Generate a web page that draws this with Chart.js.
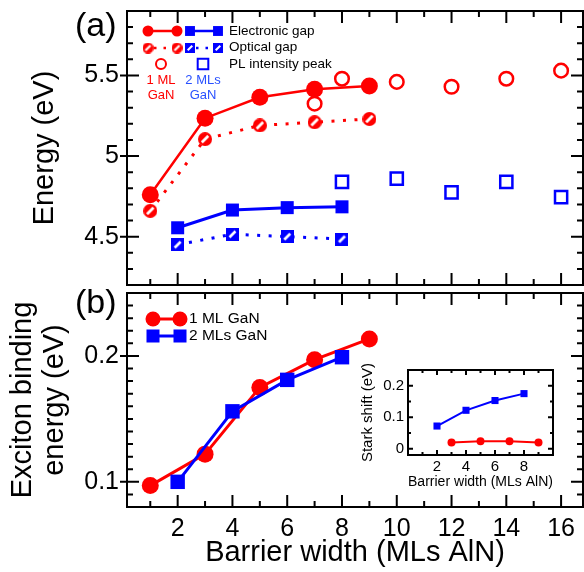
<!DOCTYPE html>
<html>
<head>
<meta charset="utf-8">
<title>Energy and exciton binding vs barrier width</title>
<script src="https://cdn.jsdelivr.net/npm/chart.js@4.4.0/dist/chart.umd.min.js"></script>
<style>
  html, body { margin: 0; padding: 0; background: #fff; }
  #wrap { position: relative; width: 584px; height: 572px; }
  canvas { position: absolute; }
</style>
</head>
<body>
<div id="wrap">
  <canvas id="panel-a" width="584" height="288" style="left:0;top:0;width:584px;height:288px"></canvas>
  <canvas id="panel-b" width="584" height="286" style="left:0;top:286px;width:584px;height:286px"></canvas>
  <canvas id="panel-inset" width="206" height="132" style="left:352px;top:364px;width:206px;height:132px"></canvas>
</div>
<script>
'use strict';

const RED = '#ff0000';
const BLUE = '#0000ff';
const FONT = "'Liberation Sans', Arial, Helvetica, sans-serif";

/* ---- panel (a): energies (eV) vs barrier width (MLs AlN) ---- */
const X_1ML = [1, 3, 5, 7, 9];
const X_2ML = [2, 4, 6, 8];
const ELEC_GAP_1ML = [4.76, 5.235, 5.365, 5.415, 5.435];
const OPT_GAP_1ML = [4.66, 5.105, 5.19, 5.21, 5.23];
const PL_X_1ML = [7, 8, 10, 12, 14, 16];
const PL_PEAK_1ML = [5.325, 5.48, 5.46, 5.43, 5.48, 5.53];
const ELEC_GAP_2ML = [4.555, 4.665, 4.68, 4.685];
const OPT_GAP_2ML = [4.45, 4.515, 4.5, 4.485];
const PL_X_2ML = [8, 10, 12, 14, 16];
const PL_PEAK_2ML = [4.84, 4.86, 4.775, 4.84, 4.745];

/* ---- panel (b): exciton binding energy (eV) ---- */
const EXB_1ML = [0.097, 0.122, 0.175, 0.197, 0.2135];
const EXB_2ML = [0.100, 0.156, 0.181, 0.199];

/* ---- inset: Stark shift (eV) ---- */
const STARK_X_1ML = [3, 5, 7, 9];
const STARK_1ML = [0.02, 0.024, 0.024, 0.02];
const STARK_2ML = [0.072, 0.122, 0.153, 0.175];

/* ---- tick labels ---- */
const X_TICKS = [2, 4, 6, 8, 10, 12, 14, 16];
const E_TICKS = [4.5, 5, 5.5];
const EXB_TICKS = [0.1, 0.2];
const INSET_X_TICKS = [2, 4, 6, 8];
const INSET_Y_TICKS = [0, 0.1, 0.2];

/* ===================================================
   helpers
   =================================================== */
function pts(xs, ys) {
  return xs.map((x, i) => ({ x: x, y: ys[i] }));
}

function hatchMarker(shape, color, d) {
  const c = document.createElement('canvas');
  c.width = d; c.height = d;
  const g = c.getContext('2d');
  g.fillStyle = color;
  if (shape === 'circle') {
    g.beginPath(); g.arc(d / 2, d / 2, d / 2, 0, Math.PI * 2); g.fill();
  } else {
    g.fillRect(0, 0, d, d);
  }
  g.strokeStyle = '#fff';
  g.lineWidth = d * 0.2;
  g.beginPath();
  g.moveTo(d * 0.27, d * 0.73);
  g.lineTo(d * 0.73, d * 0.27);
  g.stroke();
  return c;
}

function stepValues(min, max, step) {
  const out = [];
  for (let k = Math.ceil(min / step - 1e-9); k * step <= max + 1e-9; k++) {
    out.push(+(k * step).toFixed(6));
  }
  return out;
}

function isMajor(v, major) {
  return Math.abs(v / major - Math.round(v / major)) < 1e-6;
}

function fixedTicks(list) {
  return scale => { scale.ticks = list.map(v => ({ value: v })); };
}

/* frame box + inward tick marks on all four sides */
const frameTicks = {
  id: 'frameTicks',
  afterDatasetsDraw(chart, args, o) {
    const { ctx, chartArea: a } = chart;
    const xs = chart.scales.x, ys = chart.scales.y;
    ctx.save();
    ctx.strokeStyle = '#000';
    ctx.lineWidth = o.width;
    ctx.beginPath();
    stepValues(xs.min, xs.max, o.xMinor).forEach(v => {
      const p = xs.getPixelForValue(v);
      if (p < a.left + 1 || p > a.right - 1) return;
      const len = isMajor(v, o.xMajor) ? o.major : o.minor;
      ctx.moveTo(p, a.bottom); ctx.lineTo(p, a.bottom - len);
      ctx.moveTo(p, a.top); ctx.lineTo(p, a.top + len);
    });
    stepValues(ys.min, ys.max, o.yMinor).forEach(v => {
      const p = ys.getPixelForValue(v);
      if (p < a.top + 1 || p > a.bottom - 1) return;
      const major = isMajor(v, o.yMajor);
      const len = major ? o.major : o.minor;
      const out = major ? o.out : 0;
      ctx.moveTo(a.left - out, p); ctx.lineTo(a.left + len, p);
      ctx.moveTo(a.right, p); ctx.lineTo(a.right - len, p);
    });
    ctx.stroke();
    ctx.strokeRect(a.left, a.top, a.right - a.left, a.bottom - a.top);
    ctx.restore();
  }
};

function marker(ctx, style, x, y, r, color, bw, fill) {
  ctx.save();
  ctx.fillStyle = fill || color;
  ctx.strokeStyle = color;
  ctx.lineWidth = bw;
  Chart.helpers.drawPoint(ctx, { pointStyle: style, radius: r, rotation: 0, borderWidth: bw }, x, y);
  ctx.restore();
}

function segment(ctx, x0, x1, y, color, w, dash) {
  ctx.save();
  ctx.strokeStyle = color;
  ctx.lineWidth = w;
  ctx.setLineDash(dash || []);
  ctx.beginPath(); ctx.moveTo(x0, y); ctx.lineTo(x1, y); ctx.stroke();
  ctx.restore();
}

function label(ctx, text, x, y, size, color, align) {
  ctx.save();
  ctx.fillStyle = color;
  ctx.font = size + 'px ' + FONT;
  ctx.textAlign = align || 'left';
  ctx.textBaseline = 'middle';
  ctx.fillText(text, x, y);
  ctx.restore();
}

const HATCH_RED = hatchMarker('circle', RED, 14);
const HATCH_BLUE = hatchMarker('rect', BLUE, 13);
const HATCH_RED_SM = hatchMarker('circle', RED, 11);
const HATCH_BLUE_SM = hatchMarker('rect', BLUE, 10);

/* legend + panel letter for (a) */
const legendA = {
  id: 'legendA',
  afterDraw(chart) {
    const ctx = chart.ctx;
    ctx.save();
    ctx.fillStyle = '#000';
    ctx.font = '34px ' + FONT;
    ctx.textBaseline = 'alphabetic';
    ctx.fillText('(a)', 75, 36);
    ctx.restore();

    segment(ctx, 148, 177, 31, RED, 2.5);
    marker(ctx, 'circle', 148, 31, 5.5, RED, 0);
    marker(ctx, 'circle', 177, 31, 5.5, RED, 0);
    segment(ctx, 190, 218, 31, BLUE, 2.5);
    marker(ctx, 'rect', 190, 31, 7, BLUE, 0);
    marker(ctx, 'rect', 218, 31, 7, BLUE, 0);

    segment(ctx, 154, 172, 48, RED, 2.5, [2.5, 7]);
    marker(ctx, HATCH_RED_SM, 148, 48, 5, RED, 0);
    marker(ctx, HATCH_RED_SM, 177, 48, 5, RED, 0);
    segment(ctx, 196, 213, 48, BLUE, 2.5, [2.5, 7]);
    marker(ctx, HATCH_BLUE_SM, 190, 48, 5, BLUE, 0);
    marker(ctx, HATCH_BLUE_SM, 218, 48, 5, BLUE, 0);

    marker(ctx, 'circle', 161, 64, 5, RED, 2, 'rgba(0,0,0,0)');
    marker(ctx, 'rect', 203, 64, 7.5, BLUE, 2, 'rgba(0,0,0,0)');

    label(ctx, 'Electronic gap', 229, 31, 13.5, '#000');
    label(ctx, 'Optical gap', 229, 47, 13.5, '#000');
    label(ctx, 'PL intensity peak', 229, 64, 13.5, '#000');
    label(ctx, '1 ML', 161, 80, 13, RED, 'center');
    label(ctx, 'GaN', 161, 95, 13, RED, 'center');
    label(ctx, '2 MLs', 203, 80, 13, '#2850ff', 'center');
    label(ctx, 'GaN', 203, 95, 13, '#2850ff', 'center');
  }
};

/* legend + panel letter for (b); canvas starts at page y = 286 */
const legendB = {
  id: 'legendB',
  afterDraw(chart) {
    const ctx = chart.ctx;
    ctx.save();
    ctx.fillStyle = '#000';
    ctx.font = '34px ' + FONT;
    ctx.textBaseline = 'alphabetic';
    ctx.fillText('(b)', 75, 27);
    ctx.restore();

    segment(ctx, 153, 180, 33, RED, 3);
    marker(ctx, 'circle', 153, 33, 7.5, RED, 0);
    marker(ctx, 'circle', 180, 33, 7.5, RED, 0);
    segment(ctx, 153, 180, 50, BLUE, 3);
    marker(ctx, 'rect', 153, 50, 9.2, BLUE, 0);
    marker(ctx, 'rect', 180, 50, 9.2, BLUE, 0);
    label(ctx, '1 ML GaN', 189, 33, 15.5, '#000');
    label(ctx, '2 MLs GaN', 189, 50, 15.5, '#000');
  }
};

// fixed axis sizes; drop the label overhang padding so the plot box is exact
function yAxis(min, max, ticks, width, fontSize, pad, title) {
  return {
    type: 'linear', min: min, max: max,
    afterFit: s => { s.width = width; s.paddingTop = 0; s.paddingBottom = 0; },
    afterBuildTicks: fixedTicks(ticks),
    grid: { display: false, drawTicks: false },
    border: { display: false },
    ticks: { padding: pad, color: '#000', font: { family: FONT, size: fontSize }, callback: v => String(v) },
    title: title
  };
}

function xAxis(min, max, ticks, height, fontSize, pad, title) {
  return {
    type: 'linear', min: min, max: max,
    afterFit: s => { s.height = height; s.paddingLeft = 0; s.paddingRight = 0; },
    afterBuildTicks: fixedTicks(ticks),
    grid: { display: false, drawTicks: false },
    border: { display: false },
    ticks: { padding: pad, color: '#000', maxRotation: 0, font: { family: FONT, size: fontSize }, callback: v => String(v) },
    title: title
  };
}

const common = {
  responsive: false,
  animation: false,
  devicePixelRatio: 1,
  events: []
};

/* ===================================================
   panel (a)
   =================================================== */
new Chart(document.getElementById('panel-a'), {
  type: 'scatter',
  data: {
    datasets: [
      { data: pts(X_1ML, ELEC_GAP_1ML), showLine: true, borderColor: RED, borderWidth: 2.5,
        pointStyle: 'circle', pointRadius: 8.5, pointBackgroundColor: RED, pointBorderWidth: 0 },
      { data: pts(X_1ML, OPT_GAP_1ML), showLine: true, borderColor: RED, borderWidth: 3,
        borderDash: [3, 8.5], pointStyle: HATCH_RED, pointRadius: 7 },
      { data: pts(PL_X_1ML, PL_PEAK_1ML), showLine: false, pointStyle: 'circle', pointRadius: 6.8,
        pointBackgroundColor: 'rgba(0,0,0,0)', pointBorderColor: RED, pointBorderWidth: 2.5 },
      { data: pts(X_2ML, ELEC_GAP_2ML), showLine: true, borderColor: BLUE, borderWidth: 3,
        pointStyle: 'rect', pointRadius: 9.2, pointBackgroundColor: BLUE, pointBorderWidth: 0 },
      { data: pts(X_2ML, OPT_GAP_2ML), showLine: true, borderColor: BLUE, borderWidth: 3,
        borderDash: [3, 8.5], pointStyle: HATCH_BLUE, pointRadius: 7 },
      { data: pts(PL_X_2ML, PL_PEAK_2ML), showLine: false, pointStyle: 'rect', pointRadius: 8.6,
        pointBackgroundColor: 'rgba(0,0,0,0)', pointBorderColor: BLUE, pointBorderWidth: 2.5 }
    ]
  },
  options: {
    ...common,
    layout: { autoPadding: false, padding: { top: 11, right: 1, bottom: 3, left: 0 } },
    plugins: {
      legend: { display: false },
      tooltip: { enabled: false },
      frameTicks: { width: 2, xMinor: 1, xMajor: 2, yMinor: 0.1, yMajor: 0.5, major: 12, minor: 6, out: 7 }
    },
    scales: {
      x: { type: 'linear', min: 0.15, max: 16.8, display: false },
      y: yAxis(4.2, 5.9, E_TICKS, 127, 25, 8, {
        display: true, text: 'Energy (eV)', color: '#000',
        font: { family: FONT, size: 29 }, padding: { top: 28, bottom: 0 }
      })
    }
  },
  plugins: [frameTicks, legendA]
});

/* ===================================================
   panel (b)
   =================================================== */
new Chart(document.getElementById('panel-b'), {
  type: 'scatter',
  data: {
    datasets: [
      { data: pts(X_1ML, EXB_1ML), order: 1, showLine: true, borderColor: RED, borderWidth: 3,
        pointStyle: 'circle', pointRadius: 8.5, pointBackgroundColor: RED, pointBorderWidth: 0 },
      { data: pts(X_2ML, EXB_2ML), order: 0, showLine: true, borderColor: BLUE, borderWidth: 3,
        pointStyle: 'rect', pointRadius: 10.2, pointBackgroundColor: BLUE, pointBorderWidth: 0 }
    ]
  },
  options: {
    ...common,
    layout: { autoPadding: false, padding: { top: 7, right: 1, bottom: 0, left: 0 } },
    plugins: {
      legend: { display: false },
      tooltip: { enabled: false },
      frameTicks: { width: 2, xMinor: 1, xMajor: 2, yMinor: 0.01, yMajor: 0.1, major: 12, minor: 6, out: 7 }
    },
    scales: {
      x: xAxis(0.15, 16.8, X_TICKS, 65, 25, 7, {
        display: true, text: 'Barrier width (MLs AlN)', color: '#000',
        font: { family: FONT, size: 29 }, padding: { top: 0, bottom: 2 }
      }),
      y: yAxis(0.08, 0.25, EXB_TICKS, 127, 25, 8, {
        display: true, text: ['Exciton binding', 'energy (eV)'], color: '#000',
        font: { family: FONT, size: 29, lineHeight: 1.1 }, padding: { top: 7, bottom: 0 }
      })
    }
  },
  plugins: [frameTicks, legendB]
});

/* ===================================================
   inset: Stark shift
   =================================================== */
new Chart(document.getElementById('panel-inset'), {
  type: 'scatter',
  data: {
    datasets: [
      { data: pts(X_2ML, STARK_2ML), showLine: true, borderColor: BLUE, borderWidth: 2,
        pointStyle: 'rect', pointRadius: 5, pointBackgroundColor: BLUE, pointBorderWidth: 0 },
      { data: pts(STARK_X_1ML, STARK_1ML), showLine: true, borderColor: RED, borderWidth: 2,
        pointStyle: 'circle', pointRadius: 4, pointBackgroundColor: RED, pointBorderWidth: 0 }
    ]
  },
  options: {
    ...common,
    layout: { autoPadding: false, padding: { top: 6, right: 5, bottom: 0, left: 0 } },
    plugins: {
      legend: { display: false },
      tooltip: { enabled: false },
      frameTicks: { width: 2, xMinor: 1, xMajor: 2, yMinor: 0.05, yMajor: 0.1, major: 5, minor: 3, out: 0 }
    },
    scales: {
      x: xAxis(0, 10, INSET_X_TICKS, 41, 15, 3, {
        display: true, text: 'Barrier width (MLs AlN)', color: '#000',
        font: { family: FONT, size: 15.5 }, padding: { top: 0, bottom: 5 }
      }),
      y: yAxis(-0.02, 0.25, INSET_Y_TICKS, 56, 15, 4, {
        display: true, text: 'Stark shift (eV)', color: '#000',
        font: { family: FONT, size: 15 }, padding: { top: 7, bottom: 0 }
      })
    }
  },
  plugins: [frameTicks]
});
</script>
</body>
</html>
